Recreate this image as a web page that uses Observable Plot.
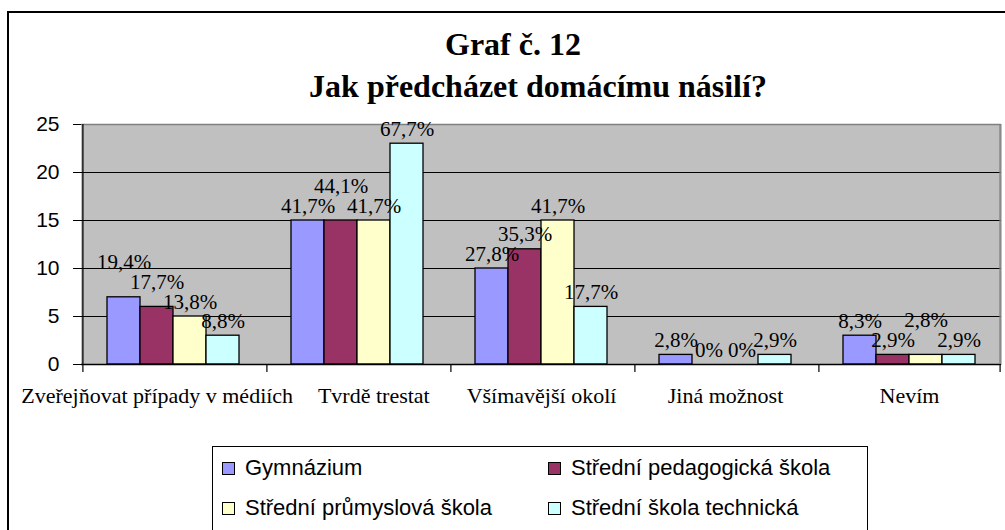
<!DOCTYPE html>
<html><head><meta charset="utf-8">
<script src="https://cdn.jsdelivr.net/npm/d3@7"></script>
<script src="https://cdn.jsdelivr.net/npm/@observablehq/plot@0.6"></script>
<style>
body{margin:0;background:#fff;}
#wrap{position:relative;width:1005px;height:530px;overflow:hidden;background:#fff;}
#border{position:absolute;left:7px;top:11px;width:1020px;height:560px;border:2px solid #000;}
.title{position:absolute;width:700px;text-align:center;font-family:"Liberation Serif","Times New Roman",serif;font-weight:bold;font-size:32px;line-height:1;white-space:nowrap;color:#000;}
#chart{position:absolute;left:0;top:0;}
#legend{position:absolute;left:212px;top:446px;width:654px;height:84px;border:1px solid #000;background:#fff;font-family:"Liberation Sans",Arial,sans-serif;font-size:22px;line-height:1;color:#000;}
.item{position:absolute;display:flex;align-items:center;white-space:nowrap;height:22px;}
.sw{width:11px;height:11px;border:1px solid #000;margin-right:10px;}
</style>
</head>
<body>
<div id="wrap">
  <div id="border"></div>
  <div id="chart"></div>
  <div class="title" id="t1" style="left:163px;top:28px;"></div>
  <div class="title" id="t2" style="left:188px;top:70px;"></div>
  <div id="legend"></div>
</div>
<script>
const titleLine1 = "Graf č. 12";
const titleLine2 = "Jak předcházet domácímu násilí?";
const categories = ["Zveřejňovat případy v médiích", "Tvrdě trestat", "Všímavější okolí", "Jiná možnost", "Nevím"];
const seriesNames = ["Gymnázium", "Střední pedagogická škola", "Střední průmyslová škola", "Střední škola technická"];
const gymnazium = [7, 15, 10, 1, 3];
const pedagogicka = [6, 15, 12, 0, 1];
const prumyslova = [5, 15, 15, 0, 1];
const technicka = [3, 23, 6, 1, 1];
const gymnaziumLabels = ["19,4%", "41,7%", "27,8%", "2,8%", "8,3%"];
const pedagogickaLabels = ["17,7%", "44,1%", "35,3%", "0%", "2,9%"];
const prumyslovaLabels = ["13,8%", "41,7%", "41,7%", "0%", "2,8%"];
const technickaLabels = ["8,8%", "67,7%", "17,7%", "2,9%", "2,9%"];
const colors = ["#9999FF", "#993366", "#FFFFCC", "#CCFFFF"];
const yTicks = [0, 5, 10, 15, 20, 25];

const W = 1005, H = 530, mL = 80, mR = 4, mT = 124, mB = 166;
const yMax = yTicks[yTicks.length - 1];
const P = 0.709;
const facetW = (W - mL - mR) / categories.length;
const step = facetW / (seriesNames.length + 2 * P);
const edge = step * (P + 0.5);
const pxPerUnit = (H - mT - mB) / yMax;
const tickUnits = 8 / pxPerUnit;
const first = categories[0], last = categories[categories.length - 1];
const serif = "Liberation Serif, Times New Roman, serif";
const labelSize = 21, catSize = 22;

const ctx = document.createElement("canvas").getContext("2d");
const textW = (s, size) => { ctx.font = `${size}px "Liberation Serif"`; return ctx.measureText(s).width; };

const seriesValues = [gymnazium, pedagogicka, prumyslova, technicka];
const seriesLabels = [gymnaziumLabels, pedagogickaLabels, prumyslovaLabels, technickaLabels];
const rows = [];
categories.forEach((c, i) => {
  const group = seriesNames.map((s, j) => ({category: c, series: s, value: seriesValues[j][i], label: seriesLabels[j][i]}));
  // right to left: lift a value label above its right neighbour when the two would collide
  for (let j = group.length - 1; j >= 0; j--) {
    const g = group[j];
    g.labelY = g.value;
    if (j < group.length - 1) {
      const n = group[j + 1];
      const hOverlap = (textW(g.label, labelSize) + textW(n.label, labelSize)) / 2 > step + 3;
      const vOverlap = Math.abs(g.labelY - n.labelY) * pxPerUnit < 17;
      if (hOverlap && vOverlap) g.labelY = n.labelY + 20 / pxPerUnit;
    }
  }
  rows.push(...group);
});

// push category labels apart horizontally when neighbours would collide
const catShift = categories.map(() => 0);
for (let i = 0; i < categories.length - 1; i++) {
  const excess = (textW(categories[i], catSize) + textW(categories[i + 1], catSize)) / 2 + 25 - facetW - (catShift[i + 1] - catShift[i]);
  if (excess > 0) { catShift[i] -= excess / 2; catShift[i + 1] += excess / 2; }
}

document.getElementById("t1").textContent = titleLine1;
document.getElementById("t2").textContent = titleLine2;

const chart = Plot.plot({
  width: W, height: H,
  marginLeft: mL, marginRight: mR, marginTop: mT, marginBottom: mB,
  style: {fontFamily: "Liberation Sans, Arial, sans-serif", fontSize: "21px", color: "#000", background: "transparent", overflow: "visible"},
  fx: {domain: categories, padding: 0, axis: null},
  x: {domain: seriesNames, paddingInner: 0, paddingOuter: P, axis: null},
  y: {domain: [0, yMax], ticks: yTicks, tickSize: 8, tickPadding: 14, label: null},
  color: {domain: seriesNames, range: colors},
  marks: [
    Plot.frame({fill: "#c0c0c0", stroke: "#c0c0c0"}),
    Plot.ruleY(yTicks.filter(t => t > 0 && t < yMax), {stroke: "#000", strokeWidth: 1}),
    Plot.ruleY([yMax], {stroke: "#808080", strokeWidth: 1.5}),
    Plot.barY(rows, {fx: "category", x: "series", y: "value", fill: "series", stroke: "#000", strokeWidth: 1.3}),
    Plot.ruleY([0], {stroke: "#000", strokeWidth: 1.3}),
    Plot.ruleX(categories, {fx: d => d, x: () => seriesNames[0], dx: -edge, y1: 0, y2: -tickUnits, stroke: "#000", strokeWidth: 1.2}),
    Plot.ruleX([first], {fx: d => d, x: () => seriesNames[0], dx: -edge, y1: 0, y2: yMax, stroke: "#000", strokeWidth: 1.3}),
    Plot.ruleX([last], {fx: d => d, x: () => seriesNames[seriesNames.length - 1], dx: edge, y1: 0, y2: yMax, stroke: "#808080", strokeWidth: 1.5}),
    Plot.ruleX([last], {fx: d => d, x: () => seriesNames[seriesNames.length - 1], dx: edge, y1: 0, y2: -tickUnits, stroke: "#000", strokeWidth: 1.2}),
    Plot.text(rows, {fx: "category", x: "series", y: "labelY", text: "label", lineAnchor: "bottom", dy: -8, fontFamily: serif, fontSize: labelSize, fill: "#000"}),
    ...categories.map((c, i) => Plot.text([c], {fx: d => d, text: d => d, frameAnchor: "bottom", dx: catShift[i], dy: 38, fontFamily: serif, fontSize: catSize, fill: "#000"}))
  ]
});
document.getElementById("chart").appendChild(chart);

const legend = document.getElementById("legend");
const pos = [[9, 10], [335, 10], [9, 50], [335, 50]];
seriesNames.forEach((s, j) => {
  const item = document.createElement("div");
  item.className = "item";
  item.style.left = pos[j][0] + "px";
  item.style.top = pos[j][1] + "px";
  const sw = document.createElement("div");
  sw.className = "sw";
  sw.style.background = colors[j];
  const tx = document.createElement("span");
  tx.textContent = s;
  item.appendChild(sw);
  item.appendChild(tx);
  legend.appendChild(item);
});
</script>
</body></html>
